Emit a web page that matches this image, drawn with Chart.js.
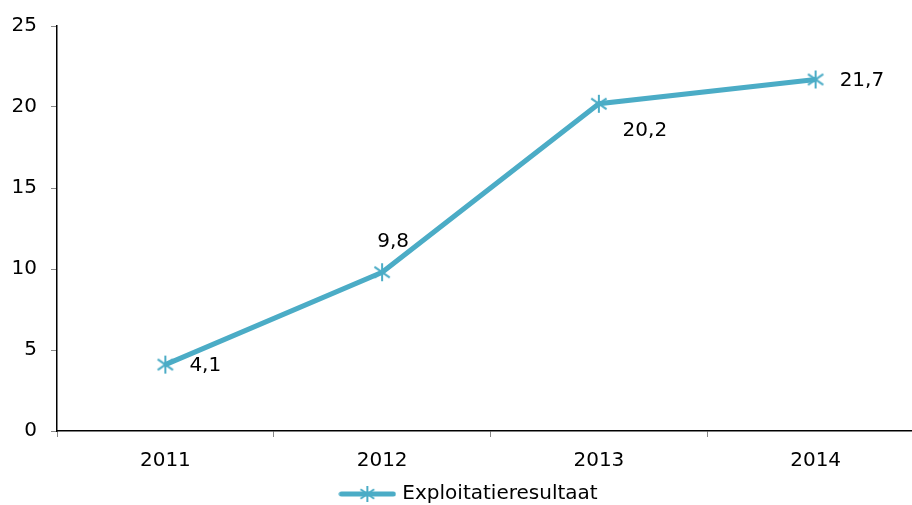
<!DOCTYPE html>
<html>
<head>
<meta charset="utf-8">
<script src="https://cdn.jsdelivr.net/npm/chart.js@4/dist/chart.umd.min.js"></script>
<style>
  html, body { margin: 0; padding: 0; background: #fff; overflow: hidden; }
  #wrap { position: relative; width: 912px; height: 505px; }
</style>
</head>
<body>
<div id="wrap"><canvas id="c"></canvas></div>
<script>
const categories = ['2011', '2012', '2013', '2014'];
const seriesName = 'Exploitatieresultaat';
const values = [4.1, 9.8, 20.2, 21.7];
const valueLabels = ['4,1', '9,8', '20,2', '21,7'];
const yTicks = [0, 5, 10, 15, 20, 25];

const COLOR = '#4BACC6';
const FONT = "'DejaVu Sans', 'Liberation Sans', Arial, sans-serif";

function makeMarker(size) {
  const c = document.createElement('canvas');
  c.width = size; c.height = size;
  const g = c.getContext('2d');
  g.strokeStyle = COLOR; g.lineWidth = 2;
  const m = size / 2, r = size / 2 - 1;
  g.beginPath();
  g.moveTo(m, m - r); g.lineTo(m, m + r);
  g.moveTo(m - r * 0.85, m - r * 0.6); g.lineTo(m + r * 0.85, m + r * 0.6);
  g.moveTo(m - r * 0.85, m + r * 0.6); g.lineTo(m + r * 0.85, m - r * 0.6);
  g.stroke();
  return c;
}
function makeLegendIcon() {
  const c = document.createElement('canvas');
  c.width = 58; c.height = 18;
  const g = c.getContext('2d');
  g.strokeStyle = COLOR; g.lineWidth = 5; g.lineCap = 'round';
  g.beginPath(); g.moveTo(3, 9); g.lineTo(55, 9); g.stroke();
  g.drawImage(makeMarker(18), 20, 0);
  return c;
}
const marker = makeMarker(20);
const legendIcon = makeLegendIcon();

const labelOffsets = [[24, 1, 'left'], [11, -30, 'center'], [46, 27, 'center'], [24, 1, 'left']];

const layoutPlugin = {
  id: 'layoutTweak',
  afterLayout(chart) {
    // the plot area runs past the right edge of the picture
    const targetRight = 924;
    const xs = chart.scales.x;
    const extra = targetRight - xs.right;
    xs.right += extra; xs.width += extra; xs.configure();
    chart.chartArea.right += extra; chart.chartArea.width += extra;
    if (chart.legend) {
      chart.legend.top += 9; chart.legend.bottom += 9;
      chart.legend.left += 14; chart.legend.right += 14;
    }
  }
};

const dataLabelPlugin = {
  id: 'dataLabels',
  afterDatasetsDraw(chart) {
    const ctx = chart.ctx;
    const meta = chart.getDatasetMeta(0);
    ctx.save();
    ctx.font = '20px ' + FONT;
    ctx.fillStyle = '#000';
    ctx.textBaseline = 'middle';
    meta.data.forEach((pt, i) => {
      const o = labelOffsets[i];
      ctx.textAlign = o[2];
      ctx.fillText(valueLabels[i], pt.x + o[0], pt.y + o[1]);
    });
    ctx.restore();
  }
};

new Chart(document.getElementById('c'), {
  type: 'line',
  data: {
    labels: categories,
    datasets: [{
      label: seriesName,
      data: values,
      borderColor: COLOR,
      backgroundColor: COLOR,
      borderWidth: 5,
      tension: 0,
      pointStyle: marker,
      pointRadius: 10,
      pointHoverRadius: 10
    }]
  },
  options: {
    responsive: true,
    maintainAspectRatio: false,
    animation: false,
    layout: { padding: { top: 25, left: 0, right: 0, bottom: 0 } },
    plugins: {
      tooltip: { enabled: false },
      legend: {
        position: 'bottom',
        labels: {
          usePointStyle: true,
          pointStyleWidth: 50,
          color: '#000',
          font: { family: FONT, size: 20 },
          padding: 0,
          generateLabels(chart) {
            return [{ text: seriesName, pointStyle: legendIcon, fillStyle: COLOR, strokeStyle: COLOR, lineWidth: 0, datasetIndex: 0, hidden: false }];
          }
        }
      }
    },
    scales: {
      x: {
        offset: true,
        grid: { offset: true, drawOnChartArea: false, drawTicks: true, tickLength: 6, color: '#888' },
        border: { color: '#000', width: 1.5 },
        ticks: { color: '#000', font: { family: FONT, size: 20 }, padding: 12 },
        afterFit(s) { s.height = 44; }
      },
      y: {
        min: 0, max: 25,
        afterBuildTicks(s) { s.ticks = yTicks.map(v => ({ value: v })); },
        grid: { drawOnChartArea: false, drawTicks: true, tickLength: 6, color: '#888' },
        border: { color: '#000', width: 1.5 },
        ticks: { color: '#000', font: { family: FONT, size: 20 }, padding: 14 },
        afterFit(s) { s.width = 57; }
      }
    }
  },
  plugins: [layoutPlugin, dataLabelPlugin]
});
</script>
</body>
</html>
